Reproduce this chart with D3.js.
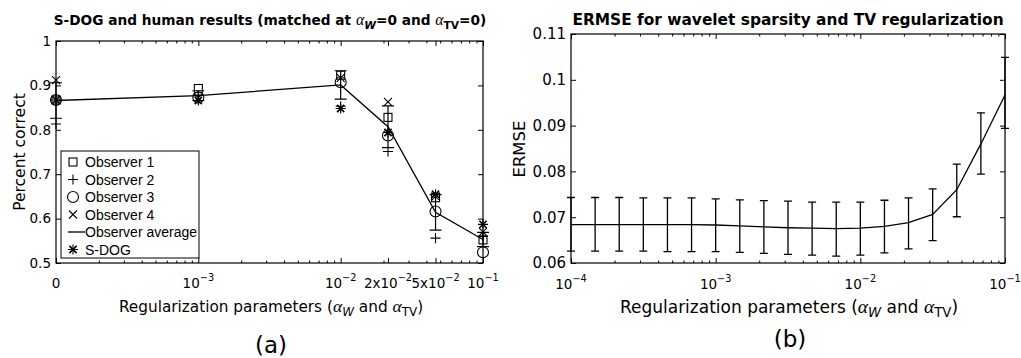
<!DOCTYPE html>
<html>
<head>
<meta charset="utf-8">
<script src="https://cdn.jsdelivr.net/npm/d3@7"></script>
<style>
  body { margin: 0; background: #fff; }
  text { font-family: "DejaVu Sans", sans-serif; fill: #000; }
</style>
</head>
<body>
<svg id="chart" width="1021" height="358"></svg>
<script>
// ---- panel (a): S-DOG and human observers ----
const levelX = [0.0001, 0.001, 0.01, 0.0215, 0.0464, 0.1];   // "0" is drawn at 1e-4
const levelLabels = ["0", "10^-3", "10^-2", "2x10^-2", "5x10^-2", "10^-1"];
const observer1 = [0.867, 0.893, 0.923, 0.828, 0.647, 0.552];
const observer2 = [0.813, 0.878, 0.853, 0.751, 0.556, 0.560];
const observer3 = [0.867, 0.873, 0.907, 0.787, 0.616, 0.524];
const observer4 = [0.912, 0.872, 0.917, 0.863, 0.650, 0.570];
const sdog      = [0.867, 0.866, 0.848, 0.794, 0.655, 0.587];
const obsAvg    = [0.866, 0.877, 0.901, 0.807, 0.614, 0.553];
const obsErr    = [0.040, 0.011, 0.032, 0.047, 0.040, 0.016];
const yTicksA   = [0.5, 0.6, 0.7, 0.8, 0.9, 1];
const legendA   = ["Observer 1", "Observer 2", "Observer 3", "Observer 4", "Observer average", "S-DOG"];

// ---- panel (b): ERMSE ----
const alphaB = [0.0001, 0.0001468, 0.0002154, 0.0003162, 0.0004642, 0.0006813,
                0.001, 0.001468, 0.002154, 0.003162, 0.004642, 0.006813,
                0.01, 0.01468, 0.02154, 0.03162, 0.04642, 0.06813, 0.1];
const ermse  = [0.0684, 0.0684, 0.0684, 0.0684, 0.0684, 0.0684, 0.0683, 0.0681, 0.0679, 0.0677,
                0.0676, 0.0675, 0.0676, 0.0680, 0.0688, 0.0706, 0.0760, 0.0860, 0.0967];
const ermseHi = [0.0743, 0.0743, 0.0743, 0.0742, 0.0742, 0.0742, 0.0740, 0.0738, 0.0736, 0.0735,
                 0.0733, 0.0733, 0.0733, 0.0737, 0.0742, 0.0762, 0.0816, 0.0928, 0.1049];
const ermseLo = [0.0626, 0.0626, 0.0626, 0.0626, 0.0625, 0.0625, 0.0625, 0.0623, 0.0621, 0.0619,
                 0.0617, 0.0615, 0.0617, 0.0622, 0.0631, 0.0649, 0.0701, 0.0794, 0.0894];
const xTicksB = [0.0001, 0.001, 0.01, 0.1];
const xLabelsB = ["10^-4", "10^-3", "10^-2", "10^-1"];
const yTicksB = [0.06, 0.07, 0.08, 0.09, 0.1, 0.11];

const svg = d3.select("#chart");
const serif = '"Liberation Serif", "Times New Roman", serif';

// text made of pieces; dy is the offset from the baseline for sub/superscripts
function richText(g, x, y, parts, size, opts = {}) {
  const t = g.append("text")
    .attr("x", x).attr("y", y)
    .attr("text-anchor", opts.anchor || "middle")
    .style("font-size", size + "px")
    .style("font-weight", opts.bold ? "bold" : "normal");
  if (opts.rotate) t.attr("transform", `rotate(-90,${x},${y})`);
  let shift = 0;
  parts.forEach(p => {
    if (typeof p === "string") p = { t: p };
    const s = t.append("tspan").text(p.t);
    const want = p.dy || 0;
    if (want !== shift) { s.attr("dy", want - shift); shift = want; }
    if (p.alpha) s.style("font-family", serif).style("font-style", "italic").style("font-weight", "normal");
    if (p.italic) s.style("font-style", "italic");
    if (p.size) s.style("font-size", p.size + "px");
  });
  return t;
}

// "10^-3" -> 10 with raised -3
function powerLabel(g, x, y, label, size) {
  const m = label.split("^");
  const parts = [m[0]];
  if (m[1]) parts.push({ t: m[1].replace("-", "\u2212"), dy: -7, size: size * 0.72 });
  return richText(g, x, y, parts, size);
}

function alphaLabel(word, sub, size) {
  return [{ t: "\u03b1", alpha: true, size: size * 1.15 }, { t: word, dy: 4, size: size * 0.78, italic: sub }];
}

function frame(g, x, y, xMajor, yTicks, yFmt, ySize) {
  const [x0, x1] = x.range(), [y0, y1] = y.range();
  const minors = x.ticks().filter(v => !xMajor.some(m => Math.abs(m - v) / v < 1e-6));
  const axes = [
    [d3.axisBottom(x).tickValues(xMajor).tickSize(-5), `translate(0,${y0})`],
    [d3.axisBottom(x).tickValues(minors).tickSize(-2.5), `translate(0,${y0})`],
    [d3.axisTop(x).tickValues(xMajor).tickSize(-5), `translate(0,${y1})`],
    [d3.axisTop(x).tickValues(minors).tickSize(-2.5), `translate(0,${y1})`],
    [d3.axisRight(y).tickValues(yTicks).tickSize(-5), `translate(${x1},0)`]
  ];
  axes.forEach(([ax, tr]) => {
    const a = g.append("g").attr("transform", tr).call(ax.tickFormat("").tickSizeOuter(0));
    a.select(".domain").remove();
  });
  const left = g.append("g").attr("transform", `translate(${x0},0)`)
    .call(d3.axisLeft(y).tickValues(yTicks).tickSize(-5).tickSizeOuter(0).tickPadding(5).tickFormat(yFmt));
  left.select(".domain").remove();
  left.selectAll("text").style("font-size", ySize + "px").style("font-family", '"DejaVu Sans", sans-serif');
  g.selectAll(".tick line").attr("stroke", "#000");
  g.append("rect").attr("x", x0).attr("y", y1).attr("width", x1 - x0).attr("height", y0 - y1)
    .attr("fill", "none").attr("stroke", "#000").attr("stroke-width", 1.2);
}

// markers (MATLAB style)
function marker(g, type, cx, cy) {
  const s = g.append("g").attr("transform", `translate(${cx},${cy})`)
    .attr("fill", "none").attr("stroke", "#000").attr("stroke-width", 1.1);
  if (type === "square") s.append("rect").attr("x", -4).attr("y", -4).attr("width", 8).attr("height", 8);
  if (type === "circle") s.append("circle").attr("r", 5.5);
  if (type === "plus" || type === "star") s.append("path").attr("d", "M-5,0H5M0,-5V5");
  if (type === "cross") s.append("path").attr("d", "M-4,-4L4,4M-4,4L4,-4");
  if (type === "star") s.append("path").attr("d", "M-3.6,-3.6L3.6,3.6M-3.6,3.6L3.6,-3.6").attr("stroke-width", 1.6);
}

// ================= panel (a) =================
const ga = svg.append("g");
const xa = d3.scaleLog().domain([1e-4, 1e-1]).range([56, 483]);
const ya = d3.scaleLinear().domain([0.5, 1]).range([263, 41]);
frame(ga, xa, ya, levelX, yTicksA, d => d === 1 ? "1" : d.toFixed(1), 13.5);

levelX.forEach((v, i) => powerLabel(ga, xa(v), 288, levelLabels[i], 13.5));

// error bars of the observer average
levelX.forEach((v, i) => {
  const cx = xa(v), hi = ya(obsAvg[i] + obsErr[i]), lo = ya(obsAvg[i] - obsErr[i]);
  ga.append("path").attr("fill", "none").attr("stroke", "#000").attr("stroke-width", 1.2)
    .attr("d", `M${cx},${hi}V${lo}M${cx - 6},${hi}H${cx + 6}M${cx - 6},${lo}H${cx + 6}`);
});
ga.append("path").datum(levelX)
  .attr("fill", "none").attr("stroke", "#000").attr("stroke-width", 1.3)
  .attr("d", d3.line().x(v => xa(v)).y((v, i) => ya(obsAvg[i])));

const seriesA = [[observer1, "square"], [observer2, "plus"], [observer3, "circle"], [observer4, "cross"], [sdog, "star"]];
seriesA.forEach(([vals, type]) => levelX.forEach((v, i) => marker(ga, type, xa(v), ya(vals[i]))));

// legend
const lg = ga.append("g");
lg.append("rect").attr("x", 61).attr("y", 151).attr("width", 138).attr("height", 107)
  .attr("fill", "#fff").attr("stroke", "#000").attr("stroke-width", 1);
const legTypes = ["square", "plus", "circle", "cross", "line", "star"];
legendA.forEach((name, i) => {
  const ly = 162 + i * 17.5;
  if (legTypes[i] === "line") lg.append("line").attr("x1", 68).attr("x2", 85).attr("y1", ly).attr("y2", ly)
    .attr("stroke", "#000").attr("stroke-width", 1.3);
  else marker(lg, legTypes[i], 73, ly);
  lg.append("text").attr("x", 85).attr("y", ly + 5)
    .style("font-family", '"Liberation Sans", Arial, sans-serif').style("font-size", "14px").text(name);
});

richText(ga, 270, 25, ["S-DOG and human results (matched at ", ...alphaLabel("W", true, 13.7), { t: "=0 and " },
  ...alphaLabel("TV", false, 13.7), { t: "=0)" }], 13.7, { bold: true });
richText(ga, 271, 312, ["Regularization parameters (", ...alphaLabel("W", true, 15.3), " and ",
  ...alphaLabel("TV", false, 15.3), ")"], 15.3);
richText(ga, 25, 152, ["Percent correct"], 15.5, { rotate: true });
richText(ga, 271, 353, ["(a)"], 23);

// ================= panel (b) =================
const gb = svg.append("g");
const xb = d3.scaleLog().domain([1e-4, 1e-1]).range([571, 1005]);
const yb = d3.scaleLinear().domain([0.06, 0.11]).range([263, 34]);
frame(gb, xb, yb, xTicksB, yTicksB, d => String(d), 15);

xTicksB.forEach((v, i) => powerLabel(gb, xb(v), 289, xLabelsB[i], 13.5));

alphaB.forEach((v, i) => {
  const cx = xb(v), hi = yb(ermseHi[i]), lo = yb(ermseLo[i]);
  gb.append("path").attr("fill", "none").attr("stroke", "#000").attr("stroke-width", 1.3)
    .attr("d", `M${cx},${hi}V${lo}M${cx - 4},${hi}H${cx + 4}M${cx - 4},${lo}H${cx + 4}`);
});
gb.append("path").datum(alphaB)
  .attr("fill", "none").attr("stroke", "#000").attr("stroke-width", 1.3)
  .attr("d", d3.line().x(v => xb(v)).y((v, i) => yb(ermse[i])));

richText(gb, 788, 25, ["ERMSE for wavelet sparsity and TV regularization"], 15.4, { bold: true });
richText(gb, 789, 313, ["Regularization parameters (", ...alphaLabel("W", true, 17), " and ",
  ...alphaLabel("TV", false, 17), ")"], 17);
richText(gb, 525, 149, ["ERMSE"], 16.5, { rotate: true });
richText(gb, 790, 347, ["(b)"], 23);
</script>
</body>
</html>
